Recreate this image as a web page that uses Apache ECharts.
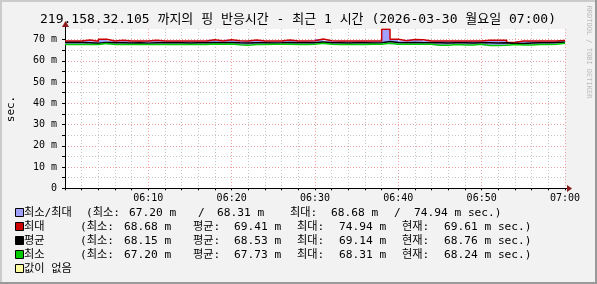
<!DOCTYPE html>
<html><head><meta charset="utf-8">
<script src="https://cdn.jsdelivr.net/npm/echarts@6/dist/echarts.min.js"></script>
<style>html,body{margin:0;padding:0;background:#f2f2f2}#c{width:597px;height:284px}</style>
</head><body><div id="c"></div>
<script>
const titleText = '219.158.32.105 까지의 핑 반응시간 - 최근 1 시간 (2026-03-30 월요일 07:00)';
const xTickLabels = ['06:00','06:10','06:20','06:30','06:40','06:50','07:00'];
const yTickLabels = ['0','10 m','20 m','30 m','40 m','50 m','60 m','70 m'];

// one value per minute, 06:00 .. 06:59
const maxVals = [69.30,69.30,69.85,69.20,70.20,69.35,69.75,69.35,69.40,69.35,
                 69.65,69.35,69.40,69.40,69.35,69.35,69.40,69.90,69.35,69.90,
                 69.50,69.35,69.80,69.40,69.35,69.35,69.85,69.40,69.40,69.45,
                 70.30,69.50,69.40,69.35,69.40,69.40,69.35,69.40,74.94,70.20,
                 69.45,70.10,69.90,69.40,69.35,69.35,69.30,69.35,69.35,69.40,
                 69.70,69.70,69.65,68.68,69.35,69.35,69.40,69.40,69.40,69.61];
const avgVals = [68.60,68.60,68.55,68.25,68.70,68.55,68.50,68.45,68.55,68.35,
                 68.55,68.50,68.50,68.50,68.45,68.50,68.55,68.65,68.55,68.70,
                 68.50,68.40,68.55,68.50,68.45,68.50,68.60,68.50,68.50,68.55,
                 68.85,68.55,68.50,68.45,68.50,68.50,68.45,68.50,69.14,68.60,
                 68.50,68.60,68.55,68.50,68.55,68.45,68.50,68.50,68.45,68.55,
                 68.50,68.45,68.50,68.15,68.20,68.45,68.55,68.55,68.60,68.76];
const minVals = [67.75,67.75,67.75,67.70,68.15,67.70,67.70,67.70,67.75,67.75,
                 67.75,67.75,67.70,67.70,67.75,67.75,67.75,67.90,67.80,67.95,
                 67.55,67.30,67.70,67.75,67.80,67.80,67.80,67.75,67.75,67.80,
                 68.25,67.80,67.75,67.75,67.75,67.75,67.80,67.80,68.31,67.80,
                 67.80,67.85,67.85,67.80,67.40,67.40,67.75,67.50,67.50,67.80,
                 67.20,67.25,67.30,67.75,67.45,67.45,67.75,67.75,67.80,68.24];

const legendNames = ['최소/최대','최대','평균','최소','값이 없음'];
const legendColors = ['#a0a0ff','#cc0000','#000000','#00cc00','#ffffa0'];
const rangeStats = ['67.20 m','68.31 m','68.68 m','74.94 m sec.)'];
const maxStats = ['68.68 m','69.41 m','74.94 m','69.61 m sec.)'];
const avgStats = ['68.15 m','68.53 m','69.14 m','68.76 m sec.)'];
const minStats = ['67.20 m','67.73 m','68.31 m','68.24 m sec.)'];
const statLabels = ['(최소:','평균:','최대:','현재:'];

const MONO = "'DejaVu Sans Mono','Noto Sans CJK KR',monospace";
const MAJOR = '#f0a0a0', MINOR = '#c4c4c4';

function stepData(vals){
  const out=[];
  vals.forEach((v,i)=>{out.push([i,v]);out.push([i+1,v]);});
  return out;
}
const bandData = maxVals.map((v,i)=>[i,i+1,minVals[i],v]);

const xSplitColors = [];
for(let i=0;i<=30;i++) xSplitColors.push(i%5===0?MAJOR:MINOR);
const ySplitColors = [];
for(let i=0;i<=15;i++) ySplitColors.push(i===15?'rgba(0,0,0,0)':(i%2===0?MAJOR:MINOR));

function txt(x,y,text,opts){
  return Object.assign({type:'text',x:x,y:y,silent:true,style:Object.assign({
    text:text,fontFamily:MONO,fontSize:11.2,fill:'#000',align:'left',verticalAlign:'middle'},opts||{})});
}
const graphics = [];
graphics.push({type:'rect',shape:{x:0,y:0,width:597,height:2},style:{fill:'#cbcbcb'},silent:true});
graphics.push({type:'rect',shape:{x:0,y:0,width:2,height:284},style:{fill:'#cbcbcb'},silent:true});
graphics.push({type:'rect',shape:{x:0,y:282,width:597,height:2},style:{fill:'#999999'},silent:true});
graphics.push({type:'rect',shape:{x:595,y:0,width:2,height:284},style:{fill:'#999999'},silent:true});
graphics.push(txt(298,19.5,titleText,{fontSize:13,align:'center'}));
graphics.push(Object.assign(txt(589,52,'RRDTOOL / TOBI OETIKER',{fontSize:7,fill:'#bbbbbb',align:'center'}),{rotation:-Math.PI/2}));
graphics.push(Object.assign(txt(11,109,'sec.',{fontSize:11,align:'center'}),{rotation:Math.PI/2}));
// axis arrows
graphics.push({type:'line',shape:{x1:565,y1:188.5,x2:569,y2:188.5},style:{stroke:'#000',lineWidth:1},silent:true});
graphics.push({type:'polygon',shape:{points:[[567,185],[572,188.5],[567,192]]},style:{fill:'#8b1a1a'},silent:true});
graphics.push({type:'line',shape:{x1:65.5,y1:29,x2:65.5,y2:25},style:{stroke:'#000',lineWidth:1},silent:true});
graphics.push({type:'polygon',shape:{points:[[62,27],[65.5,21],[69,27]]},style:{fill:'#8b1a1a'},silent:true});

// legend
const rowY = [213,227,241,255,269];
legendNames.forEach((n,i)=>{
  graphics.push({type:'rect',shape:{x:15.5,y:rowY[i]-4.5,width:8,height:8},style:{fill:legendColors[i],stroke:'#000',lineWidth:1},silent:true});
  graphics.push(txt(24,rowY[i],n));
});
// row 1
[[86,'(최소:'],[129,rangeStats[0]],[198,'/'],[217,rangeStats[1]],[290,'최대:'],[331,rangeStats[2]],[394,'/'],[414,rangeStats[3]]]
  .forEach(p=>graphics.push(txt(p[0],rowY[0],p[1])));
const statX = [80,193,297,402], valX = [124,234,339,444];
[maxStats,avgStats,minStats].forEach((s,r)=>{
  s.forEach((v,k)=>{
    graphics.push(txt(statX[k],rowY[r+1],statLabels[k]));
    graphics.push(txt(valX[k],rowY[r+1],v));
  });
});

const chart = echarts.init(document.getElementById('c'),null,{renderer:'canvas'});
chart.setOption({
  animation:false,
  backgroundColor:'#f2f2f2',
  grid:{left:65,top:29,width:500,height:159.3,show:true,backgroundColor:'#ffffff',borderWidth:0},
  xAxis:{type:'value',min:0,max:60,interval:2,
    axisLine:{show:true,onZero:false,lineStyle:{color:'#000',width:1}},
    axisTick:{show:true,length:2,lineStyle:{color:'#000'}},
    axisLabel:{margin:5,color:'#000',fontFamily:MONO,fontSize:10,showMaxLabel:true,
      formatter:v=>(v%10===0&&v>0)?xTickLabels[v/10]:''},
    splitLine:{show:true,lineStyle:{color:xSplitColors,type:[1,2],width:1}}},
  yAxis:{type:'value',min:0,max:75,interval:5,
    axisLine:{show:true,lineStyle:{color:'#000',width:1}},
    axisTick:{show:true,length:3,lineStyle:{color:'#000'}},
    axisLabel:{margin:8,color:'#000',fontFamily:MONO,fontSize:10,showMaxLabel:false,
      formatter:v=>(v%10===0)?yTickLabels[v/10]:''},
    splitLine:{show:true,lineStyle:{color:ySplitColors,type:[1,2],width:1}}},
  graphic:graphics,
  series:[
    {type:'custom',clip:true,data:bandData,encode:{x:[0,1],y:[2,3]},z:2,
      renderItem:function(params,api){
        const p1=api.coord([api.value(0),api.value(3)]);
        const p2=api.coord([api.value(1),api.value(2)]);
        const x1=Math.round(p1[0]),x2=Math.round(p2[0]);
        return {type:'rect',shape:{x:x1,y:p1[1],width:x2-x1,height:p2[1]-p1[1]},style:{fill:'#a0a0ff'}};
      }},
    {type:'line',data:stepData(maxVals),showSymbol:false,symbol:'none',z:3,lineStyle:{color:'#cc0000',width:1.5}},
    {type:'line',data:stepData(avgVals),showSymbol:false,symbol:'none',z:4,lineStyle:{color:'#000000',width:1.5}},
    {type:'line',data:stepData(minVals),showSymbol:false,symbol:'none',z:5,lineStyle:{color:'#00cc00',width:1.5}}
  ]
});
</script></body></html>
